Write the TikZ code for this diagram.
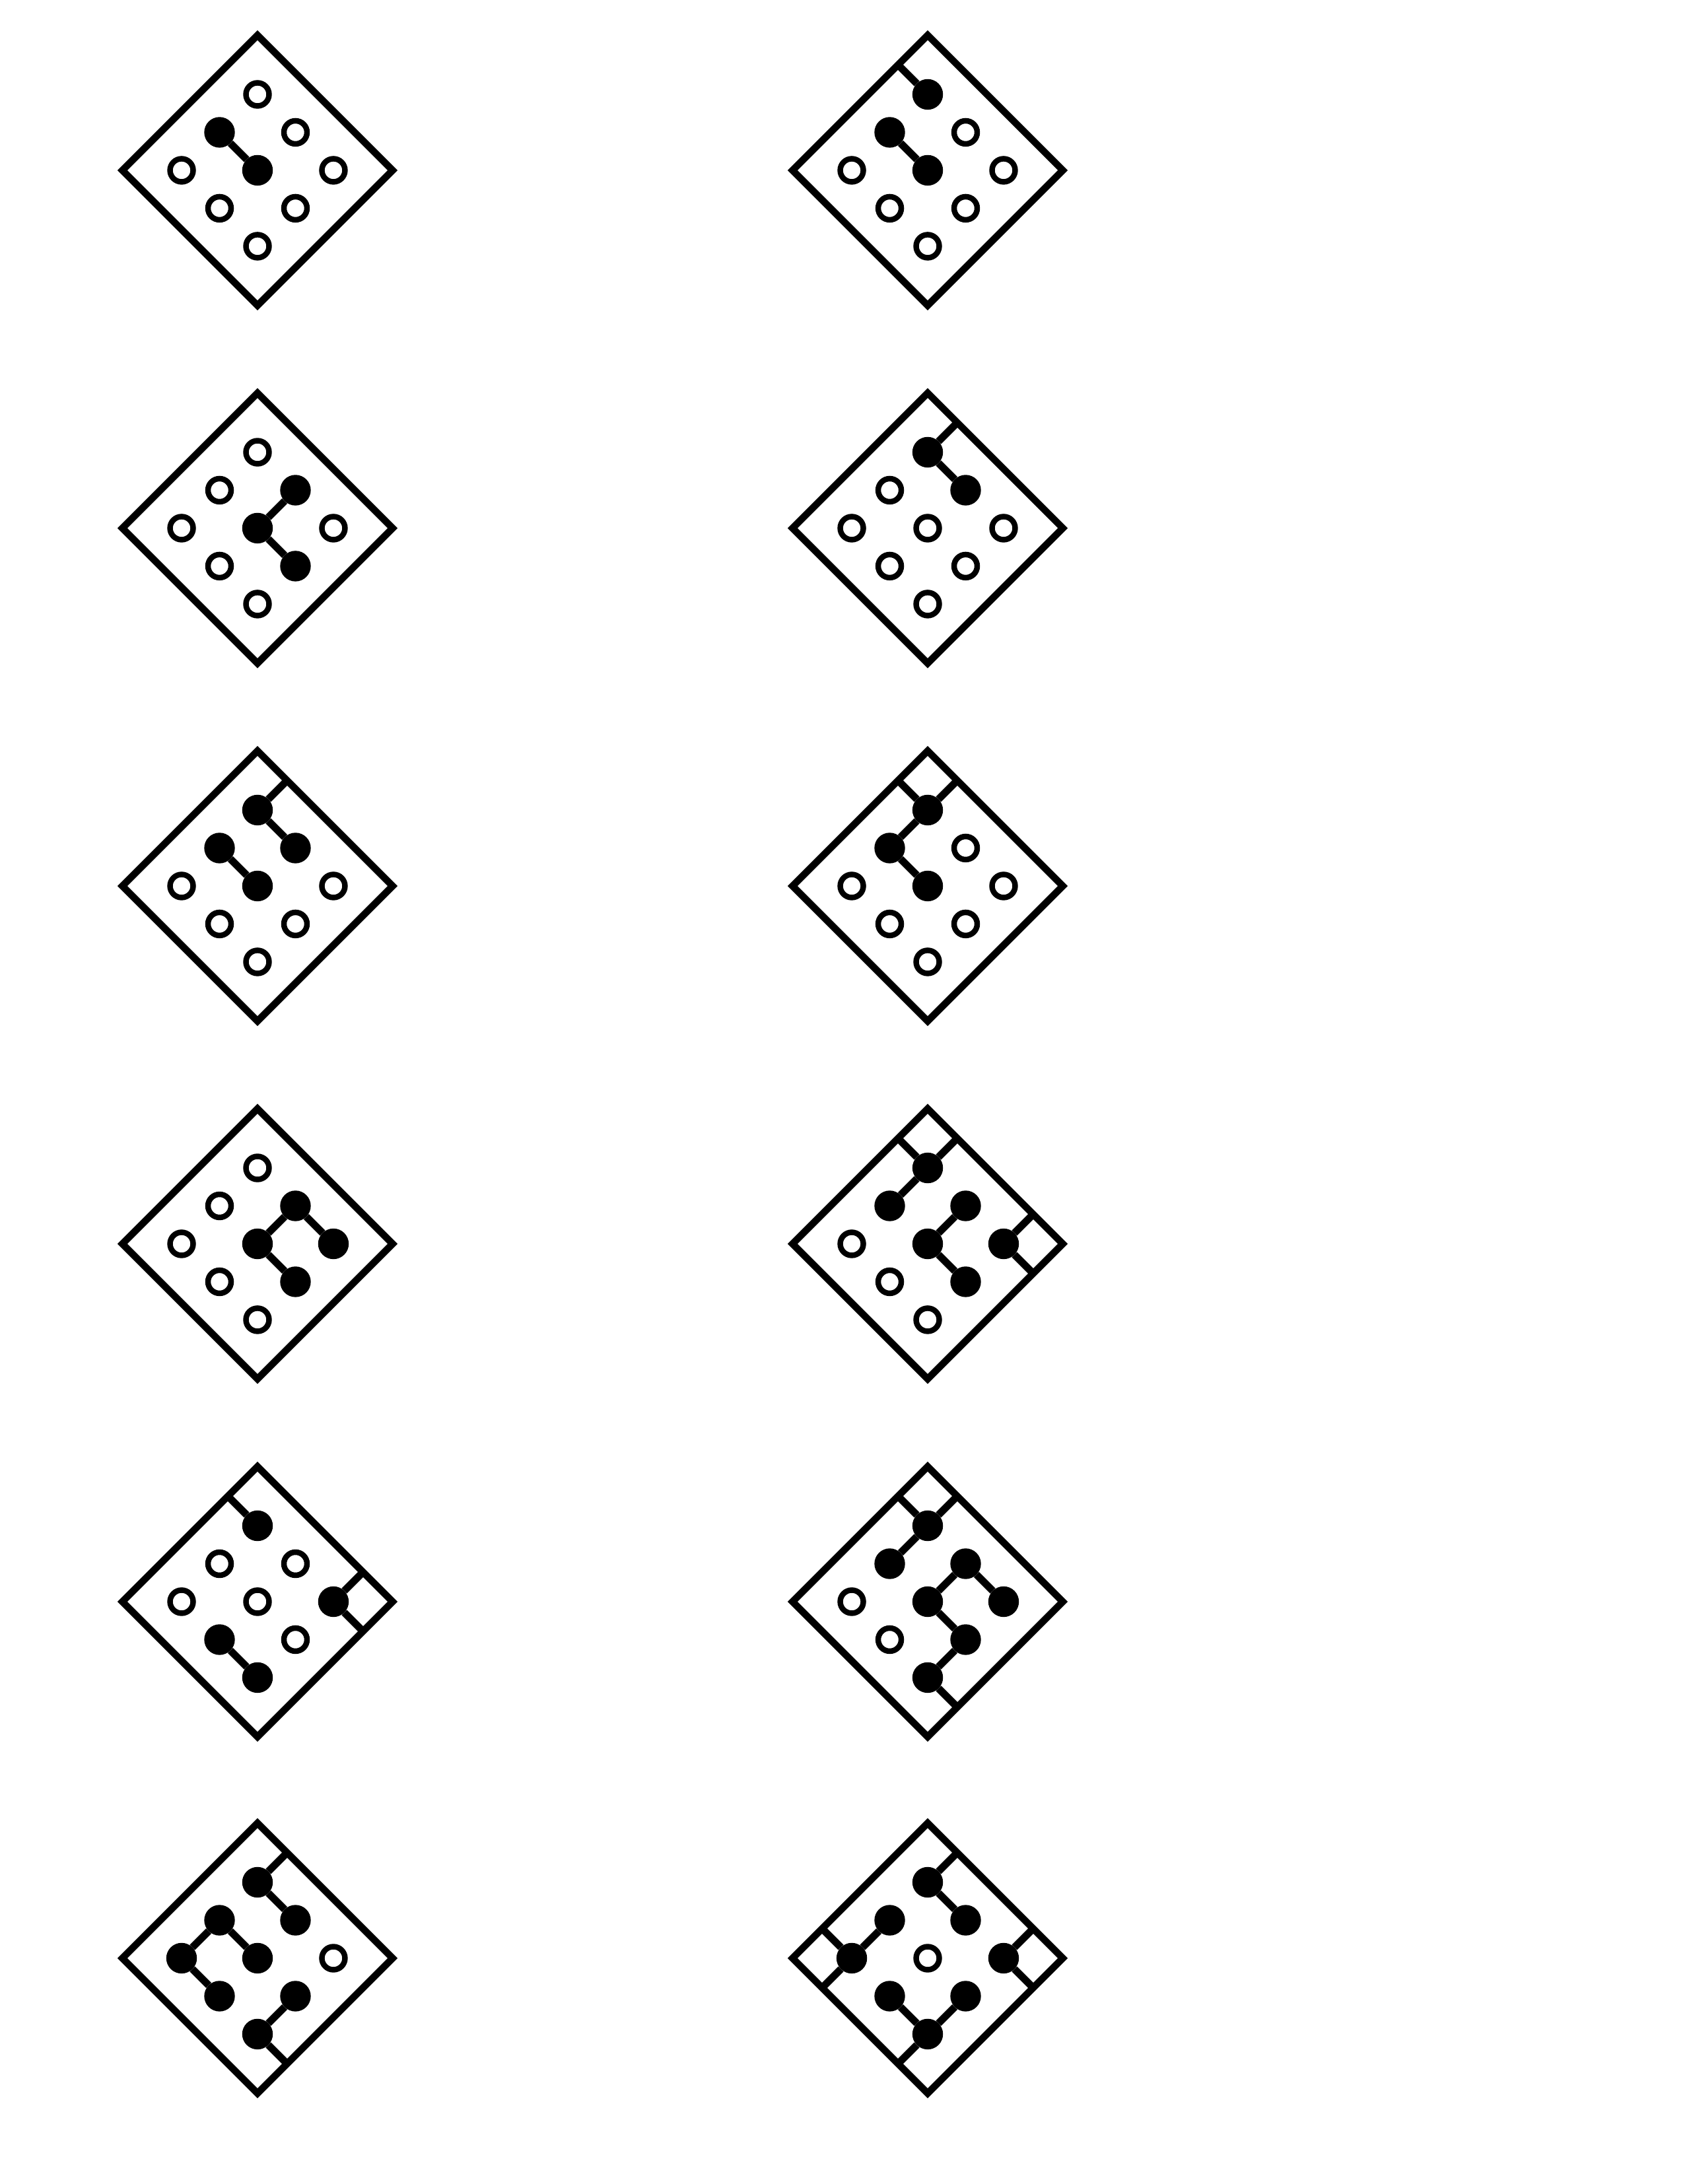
\documentclass[tikz,border=0pt]{standalone}
\usepackage{tikz}

\tikzset{
  board/.style={line width=3pt},
  hole/.style={circle, draw, fill=white, line width=2.4pt, minimum size=0.35cm, inner sep=0pt},
  stone/.style={circle, draw, fill, minimum size=0.45cm, inner sep=0pt},
  bond/.style={line width=3.2pt},
  cell/.style 2 args={shift={(#1,#2)}, rotate=45, scale=0.813},
  dN/.style=hole, dNE/.style=hole, dNW/.style=hole, dE/.style=hole, dC/.style=hole,
  dW/.style=hole, dSE/.style=hole, dSW/.style=hole, dS/.style=hole
}

% nine points of one board, plus the rim points the stubs run to
\newcommand{\boardgrid}{%
  \draw[board] (-1.78,-1.78) rectangle (1.78,1.78);
  \foreach \n/\a/\b in {N/1/1,NE/1/0,NW/0/1,E/1/-1,C/0/0,W/-1/1,SE/0/-1,SW/-1/0,S/-1/-1}
    \node[d\n] (\n) at (\a,\b) {};
  \coordinate (N-nw) at (1,1.78);   \coordinate (N-ne) at (1.78,1);
  \coordinate (E-ne) at (1.78,-1);  \coordinate (E-se) at (1,-1.78);
  \coordinate (S-se) at (-1,-1.78); \coordinate (S-sw) at (-1.78,-1);
  \coordinate (W-nw) at (-1,1.78);  \coordinate (W-sw) at (-1.78,1);
}

\begin{document}
\begin{tikzpicture}
\path[fill=white, use as bounding box] (0,0) rectangle (25.52,33.08);

% --- Row 1 ---
\begin{scope}[cell={3.90}{30.50}, name prefix=a-, dNW/.style=stone, dC/.style=stone]
  \boardgrid
  \draw[bond] (NW) -- (C);
\end{scope}
\begin{scope}[cell={14.05}{30.50}, name prefix=b-, dN/.style=stone, dNW/.style=stone, dC/.style=stone]
  \boardgrid
  \draw[bond] (NW) -- (C) (N) -- (N-nw);
\end{scope}

% --- Row 2 ---
\begin{scope}[cell={3.90}{25.08}, name prefix=c-, dNE/.style=stone, dC/.style=stone, dSE/.style=stone]
  \boardgrid
  \draw[bond] (C) -- (NE) (C) -- (SE);
\end{scope}
\begin{scope}[cell={14.05}{25.08}, name prefix=d-, dN/.style=stone, dNE/.style=stone]
  \boardgrid
  \draw[bond] (N) -- (NE) (N) -- (N-ne);
\end{scope}

% --- Row 3 ---
\begin{scope}[cell={3.90}{19.66}, name prefix=e-, dN/.style=stone, dNE/.style=stone, dNW/.style=stone, dC/.style=stone]
  \boardgrid
  \draw[bond] (N) -- (NE) (NW) -- (C) (N) -- (N-ne);
\end{scope}
\begin{scope}[cell={14.05}{19.66}, name prefix=f-, dN/.style=stone, dNW/.style=stone, dC/.style=stone]
  \boardgrid
  \draw[bond] (N) -- (NW) (NW) -- (C) (N) -- (N-nw) (N) -- (N-ne);
\end{scope}

% --- Row 4 ---
\begin{scope}[cell={3.90}{14.24}, name prefix=g-, dNE/.style=stone, dC/.style=stone, dE/.style=stone, dSE/.style=stone]
  \boardgrid
  \draw[bond] (C) -- (NE) (NE) -- (E) (C) -- (SE);
\end{scope}
\begin{scope}[cell={14.05}{14.24}, name prefix=h-, dN/.style=stone, dNW/.style=stone, dNE/.style=stone,
    dC/.style=stone, dSE/.style=stone, dE/.style=stone]
  \boardgrid
  \draw[bond] (N) -- (NW) (NE) -- (C) (C) -- (SE);
  \draw[bond] (N) -- (N-nw) (N) -- (N-ne) (E) -- (E-ne) (E) -- (E-se);
\end{scope}

% --- Row 5 ---
\begin{scope}[cell={3.90}{8.82}, name prefix=i-, dN/.style=stone, dE/.style=stone, dSW/.style=stone, dS/.style=stone]
  \boardgrid
  \draw[bond] (SW) -- (S);
  \draw[bond] (N) -- (N-nw) (E) -- (E-ne) (E) -- (E-se);
\end{scope}
\begin{scope}[cell={14.05}{8.82}, name prefix=j-, dN/.style=stone, dNW/.style=stone, dNE/.style=stone,
    dC/.style=stone, dE/.style=stone, dSE/.style=stone, dS/.style=stone]
  \boardgrid
  \draw[bond] (N) -- (NW) (NE) -- (C) (NE) -- (E) (C) -- (SE) (SE) -- (S);
  \draw[bond] (N) -- (N-nw) (N) -- (N-ne) (S) -- (S-se);
\end{scope}

% --- Row 6 ---
\begin{scope}[cell={3.90}{3.42}, name prefix=k-, dN/.style=stone, dNE/.style=stone, dNW/.style=stone, dW/.style=stone,
    dC/.style=stone, dSW/.style=stone, dSE/.style=stone, dS/.style=stone]
  \boardgrid
  \draw[bond] (N) -- (NE) (NW) -- (W) (NW) -- (C) (W) -- (SW) (SE) -- (S);
  \draw[bond] (N) -- (N-ne) (S) -- (S-se);
\end{scope}
\begin{scope}[cell={14.05}{3.42}, name prefix=l-, dN/.style=stone, dNE/.style=stone, dNW/.style=stone, dW/.style=stone,
    dE/.style=stone, dSW/.style=stone, dS/.style=stone, dSE/.style=stone]
  \boardgrid
  \draw[bond] (N) -- (NE) (NW) -- (W) (SW) -- (S) (S) -- (SE);
  \draw[bond] (N) -- (N-ne) (W) -- (W-nw) (W) -- (W-sw) (E) -- (E-ne) (E) -- (E-se) (S) -- (S-sw);
\end{scope}

\end{tikzpicture}
\end{document}
